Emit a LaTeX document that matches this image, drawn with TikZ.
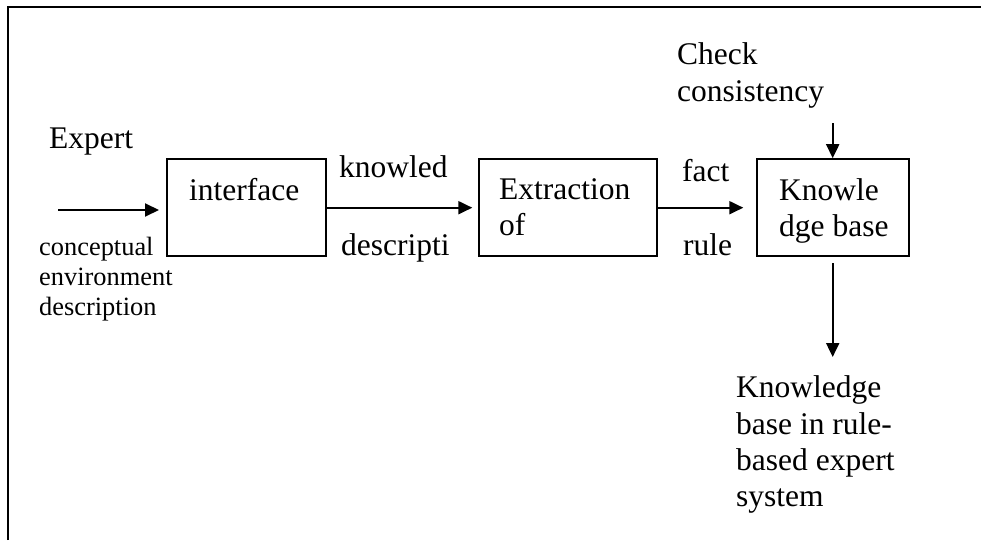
\documentclass[tikz,border=0pt]{standalone}
\usepackage{fontspec}
\setmainfont{Liberation Serif}
\usetikzlibrary{arrows.meta}
\newcommand\mlines[1]{\begin{tabular}[t]{@{}l@{}}#1\end{tabular}}
\begin{document}
\begin{tikzpicture}[x=1pt,y=-1pt,
  box/.style={draw,line width=2pt,inner sep=0pt,minimum height=97pt},
  big/.style={inner sep=0pt,anchor=base west,font=\fontsize{31.5}{36.3}\selectfont},
  small/.style={inner sep=0pt,anchor=base west,font=\fontsize{26.4}{30.4}\selectfont},
  conn/.style={line width=2pt,-{Triangle[length=14pt,width=13pt]}}]
\useasboundingbox (0,0) rectangle (981,540);
\draw[line width=2.2pt] (8,540) -- (8,7) -- (981,7);
% boxes
\node[box,minimum width=159pt] (iface) at (246.5,207.7) {};
\node[box,minimum width=178pt] (extr) at (568.3,207.7) {};
\node[box,minimum width=152pt] (kb) at (833.3,207.7) {};
% texts
\node[big] (expert) at (49,149) {Expert};
\node[small] (concept) at (39,255) {\mlines{conceptual\\environment\\description}};
\node[big] (ifacet) at (189,200) {interface};
\node[big] (knowled) at (339,177) {knowled};
\node[big] (descr) at (341,255) {descripti};
\node[big] (extrt) at (499,199) {\mlines{Extraction\\of}};
\node[big] (fact) at (682,181.5) {fact};
\node[big] (rule) at (683,255) {rule};
\node[big] (kbt) at (779,200) {\mlines{Knowle\\dge base}};
\node[big] (check) at (677,65) {\mlines{Check\\consistency}};
\node[big] (result) at (736,397.7) {\mlines{Knowledge\\base in rule-\\based expert\\system}};
% connectors
\coordinate (in) at (58,210);
\coordinate (ctop) at (832.7,123.3);
\coordinate (out) at (832.7,357);
\draw[conn,shorten >=7pt] (in) -- (in -| iface.west);
\draw[conn,shorten >=6pt] (iface.east) -- (extr.west);
\draw[conn,shorten >=13pt] (extr.east) -- (kb.west);
\draw[conn] (ctop) -- (ctop |- kb.north);
\draw[conn,shorten <=6pt] (out |- kb.south) -- (out);
\end{tikzpicture}
\end{document}
